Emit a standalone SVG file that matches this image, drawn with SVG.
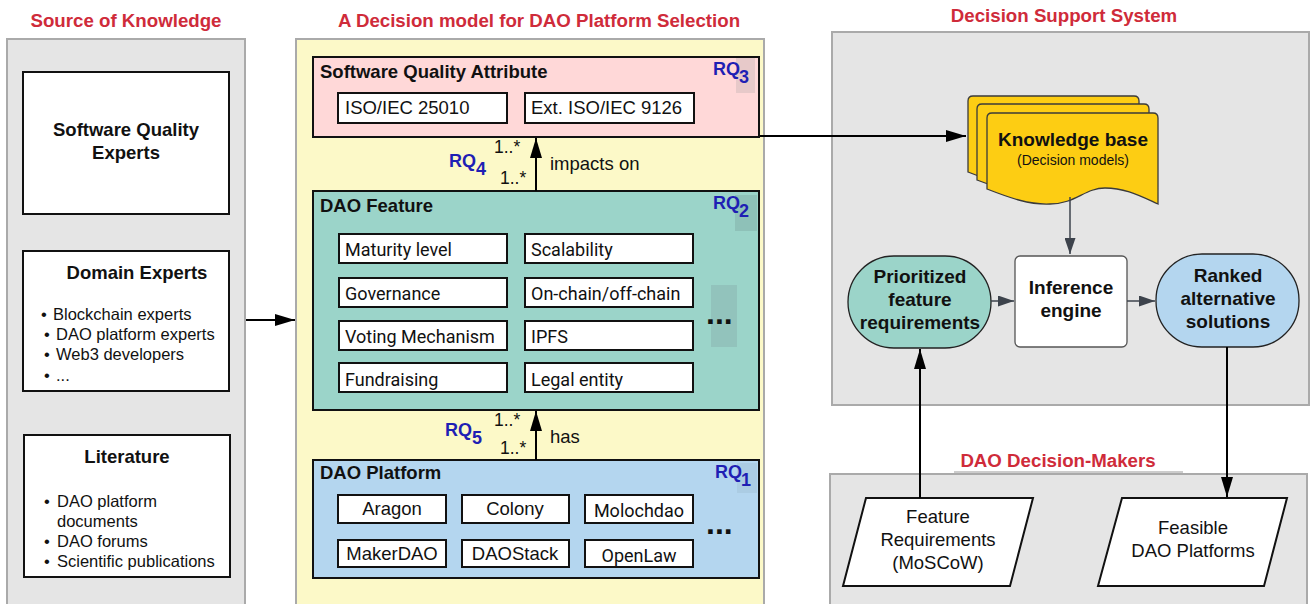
<svg xmlns="http://www.w3.org/2000/svg" width="1310" height="604" viewBox="0 0 1310 604">
<style>
.t{font-family:"Liberation Sans",Arial,sans-serif;fill:#111}
.b{font-weight:bold}
.red{font-family:"Liberation Sans",Arial,sans-serif;font-weight:bold;font-size:18.7px;fill:#cf2b3a}
.rq{font-family:"Liberation Sans",Arial,sans-serif;font-weight:bold;font-size:18px;fill:#1f1fb4}
.ro{font-family:Roboto,"Liberation Sans",sans-serif;fill:#111}
.panel{fill:#e5e5e5;stroke:#aaa;stroke-width:2}
.wb{fill:#fff;stroke:#111;stroke-width:2}
.c{text-anchor:middle}
.ln{stroke:#000;stroke-width:2;fill:none}
.gl{stroke:#3d434c;stroke-width:1.5;fill:none}
</style>
<defs>
<marker id="ah" markerUnits="userSpaceOnUse" markerWidth="20" markerHeight="12" refX="20" refY="6" orient="auto"><path d="M0,0 L20,6 L0,12 z" fill="#000"/></marker>
<marker id="ga" markerUnits="userSpaceOnUse" markerWidth="16" markerHeight="11" refX="16" refY="5.5" orient="auto"><path d="M0,0 L16,5.5 L0,11 z" fill="#3d434c"/></marker>
</defs>

<!-- Left panel -->
<g id="source-of-knowledge">
<text class="red c" x="126" y="27">Source of Knowledge</text>
<rect class="panel" x="7" y="39" width="238" height="570"/>
</g>
<g id="sq-experts">
<rect class="wb" x="23" y="72" width="206" height="142"/>
<text class="t b c" x="126" y="136" font-size="18.5">Software Quality</text>
<text class="t b c" x="126" y="159" font-size="18.5">Experts</text>
</g>
<g id="domain-experts">
<rect class="wb" x="23" y="251" width="206" height="140"/>
<text class="t b c" x="137" y="279" font-size="18.5">Domain Experts</text>
<g class="t" font-size="16.5">
<text x="41" y="320">•</text><text x="53" y="320">Blockchain experts</text>
<text x="44" y="340">•</text><text x="56" y="340">DAO platform experts</text>
<text x="44" y="360">•</text><text x="56" y="360">Web3 developers</text>
<text x="44" y="381">•</text><text x="56" y="381">...</text>
</g>
</g>
<g id="literature">
<rect class="wb" x="24" y="435" width="206" height="142"/>
<text class="t b c" x="127" y="463" font-size="18.5">Literature</text>
<g class="t" font-size="16.5">
<text x="44" y="507">•</text><text x="57" y="507">DAO platform</text>
<text x="57" y="527">documents</text>
<text x="44" y="547">•</text><text x="57" y="547">DAO forums</text>
<text x="44" y="567">•</text><text x="57" y="567">Scientific publications</text>
</g>
</g>

<!-- Middle panel -->
<g id="decision-model">
<text class="red c" x="539" y="27">A Decision model for DAO Platform Selection</text>
<rect x="296" y="39" width="468" height="570" fill="#fcf9c8" stroke="#aaa" stroke-width="2"/>
</g>
<g id="sqa">
<rect x="313" y="57" width="446" height="80" fill="#ffd8d8" stroke="#111" stroke-width="2"/>
<rect x="736" y="58" width="19" height="35" fill="#c9b8b8" opacity="0.45"/>
<text class="t b" x="320" y="78" font-size="18.5">Software Quality Attribute</text>
<text class="rq" x="713" y="75">RQ</text><text class="rq" x="739" y="83">3</text>
<rect class="wb" x="338" y="93" width="169" height="30"/>
<text class="t" x="345" y="114" font-size="18.5">ISO/IEC 25010</text>
<rect class="wb" x="525" y="93" width="169" height="30"/>
<text class="t" x="531" y="114" font-size="18.5">Ext. ISO/IEC 9126</text>
</g>
<g id="dao-feature">
<rect x="313" y="191" width="446" height="219" fill="#9bd4c9" stroke="#111" stroke-width="2"/>
<rect x="735" y="195" width="22" height="36" fill="#86b4ad" opacity="0.6"/>
<text class="t b" x="320" y="212" font-size="18.5">DAO Feature</text>
<text class="rq" x="713" y="209">RQ</text><text class="rq" x="739" y="217">2</text>
<g class="wb">
<rect x="339" y="234" width="168" height="29"/><rect x="525" y="234" width="168" height="29"/>
<rect x="339" y="278" width="168" height="29"/><rect x="525" y="278" width="168" height="29"/>
<rect x="339" y="321" width="168" height="29"/><rect x="525" y="321" width="168" height="29"/>
<rect x="339" y="363" width="168" height="29"/><rect x="525" y="363" width="168" height="29"/>
</g>
<g class="ro" font-size="18">
<text x="345" y="256">Maturity level</text><text x="531" y="256">Scalability</text>
<text x="345" y="300">Governance</text><text x="531" y="300">On-chain/off-chain</text>
<text x="345" y="343">Voting Mechanism</text><text x="531" y="343">IPFS</text>
<text x="345" y="386">Fundraising</text><text x="531" y="386">Legal entity</text>
</g>
<rect x="711" y="285" width="26" height="62" fill="#8fbcb7" opacity="0.7"/>
<text class="t b" x="706" y="324" font-size="32">...</text>
</g>
<g id="dao-platform">
<rect x="313" y="460" width="446" height="118" fill="#b4d6ef" stroke="#111" stroke-width="2"/>
<rect x="737" y="463" width="20" height="30" fill="#a5c4da" opacity="0.6"/>
<text class="t b" x="320" y="479" font-size="18.5">DAO Platform</text>
<text class="rq" x="715" y="478">RQ</text><text class="rq" x="741" y="486">1</text>
<g class="wb">
<rect x="338" y="495" width="108" height="28"/><rect x="462" y="495" width="107" height="28"/><rect x="585" y="495" width="108" height="28"/>
<rect x="338" y="540" width="108" height="27"/><rect x="462" y="540" width="107" height="27"/><rect x="585" y="540" width="108" height="27"/>
</g>
<g class="t c" font-size="18.5">
<text x="392" y="515">Aragon</text><text x="515" y="515">Colony</text>
<text x="392" y="560">MakerDAO</text><text x="515" y="560">DAOStack</text>
</g>
<g class="ro c" font-size="18">
<text x="639" y="517">Molochdao</text><text x="639" y="562">OpenLaw</text>
</g>
<text class="t b" x="706" y="534" font-size="32">...</text>
</g>

<!-- DSS panel -->
<g id="dss">
<text class="red c" x="1064" y="22">Decision Support System</text>
<rect class="panel" x="832" y="32" width="477" height="373"/>
</g>
<g id="knowledge-base">
<g fill="#fdcd13" stroke="#3a3a3a" stroke-width="1.3">
<path d="M968,101 q0,-5 5,-5 H1134 q5,0 5,5 V187 C1121,179 1106,171 1086,171 C1066,171 1056,187 1031,187 C1011,188 991,181 968,172 Z"/>
<path d="M977,109 q0,-5 5,-5 H1144 q5,0 5,5 V195 C1131,187 1116,179 1096,179 C1076,179 1066,195 1041,195 C1021,196 1001,189 977,180 Z"/>
<path d="M987,118 q0,-5 5,-5 H1153 q5,0 5,5 V204 C1140,196 1125,188 1105,188 C1085,188 1075,204 1050,204 C1030,205 1010,198 987,189 Z"/>
</g>
<text class="t b c" x="1073" y="146" font-size="19">Knowledge base</text>
<text class="t c" x="1073" y="165" font-size="14">(Decision models)</text>
</g>
<g id="inference-engine">
<rect x="1015" y="256" width="112" height="91" rx="5" fill="#fff" stroke="#555" stroke-width="1.3"/>
<text class="t b c" x="1071" y="294" font-size="19">Inference</text>
<text class="t b c" x="1071" y="317" font-size="19">engine</text>
</g>
<g id="prioritized">
<rect x="848" y="256" width="143" height="92" rx="46" ry="46" fill="#9bd4c9" stroke="#222" stroke-width="1.3"/>
<text class="t b c" x="920" y="283" font-size="19">Prioritized</text>
<text class="t b c" x="920" y="306" font-size="19">feature</text>
<text class="t b c" x="920" y="329" font-size="19">requirements</text>
</g>
<g id="ranked">
<rect x="1156" y="254" width="143" height="93" rx="46" ry="46" fill="#b4d6ef" stroke="#222" stroke-width="1.3"/>
<text class="t b c" x="1228" y="282" font-size="19">Ranked</text>
<text class="t b c" x="1228" y="305" font-size="19">alternative</text>
<text class="t b c" x="1228" y="328" font-size="19">solutions</text>
</g>

<!-- DAO Decision-Makers -->
<g id="decision-makers">
<text class="red c" x="1058" y="467">DAO Decision-Makers</text>
<rect class="panel" x="830" y="474" width="477" height="135"/>
<line x1="954" y1="472" x2="1183" y2="472" stroke="#bbb" stroke-width="1.5"/>
</g>
<g id="feature-requirements">
<polygon points="866,498 1033,498 1010,586 843,586" fill="#fff" stroke="#111" stroke-width="2"/>
<text class="t c" x="938" y="523" font-size="18.5">Feature</text>
<text class="t c" x="938" y="546" font-size="18.5">Requirements</text>
<text class="t c" x="938" y="569" font-size="18.5">(MoSCoW)</text>
</g>
<g id="feasible-platforms">
<polygon points="1122,498 1287,498 1264,586 1098,586" fill="#fff" stroke="#111" stroke-width="2"/>
<text class="t c" x="1193" y="534" font-size="18.5">Feasible</text>
<text class="t c" x="1193" y="557" font-size="18.5">DAO Platforms</text>
</g>

<!-- Connectors -->
<g id="connectors">
<line class="ln" x1="246" y1="320" x2="295" y2="320" marker-end="url(#ah)"/>
<line class="ln" x1="536" y1="191" x2="536" y2="138" marker-end="url(#ah)"/>
<line class="ln" x1="536" y1="460" x2="536" y2="411" marker-end="url(#ah)"/>
<line class="ln" x1="760" y1="136" x2="966" y2="136" marker-end="url(#ah)"/>
<line class="gl" x1="1070" y1="197" x2="1070" y2="254" marker-end="url(#ga)"/>
<line class="gl" x1="991" y1="301" x2="1014" y2="301" marker-end="url(#ga)"/>
<line class="gl" x1="1127" y1="301" x2="1155" y2="301" marker-end="url(#ga)"/>
<line class="ln" x1="920" y1="498" x2="920" y2="349" marker-end="url(#ah)"/>
<line class="ln" x1="1227" y1="347" x2="1227" y2="497" marker-end="url(#ah)"/>
<g class="t" font-size="17.5">
<text x="494" y="153">1..*</text><text x="500" y="184">1..*</text>
<text x="494" y="426">1..*</text><text x="500" y="454">1..*</text>
</g>
<text class="t" x="550" y="170" font-size="18.5">impacts on</text>
<text class="t" x="550" y="443" font-size="18.5">has</text>
<text class="rq" x="449" y="167">RQ</text><text class="rq" x="476" y="175">4</text>
<text class="rq" x="445" y="436">RQ</text><text class="rq" x="472" y="444">5</text>
</g>
</svg>
